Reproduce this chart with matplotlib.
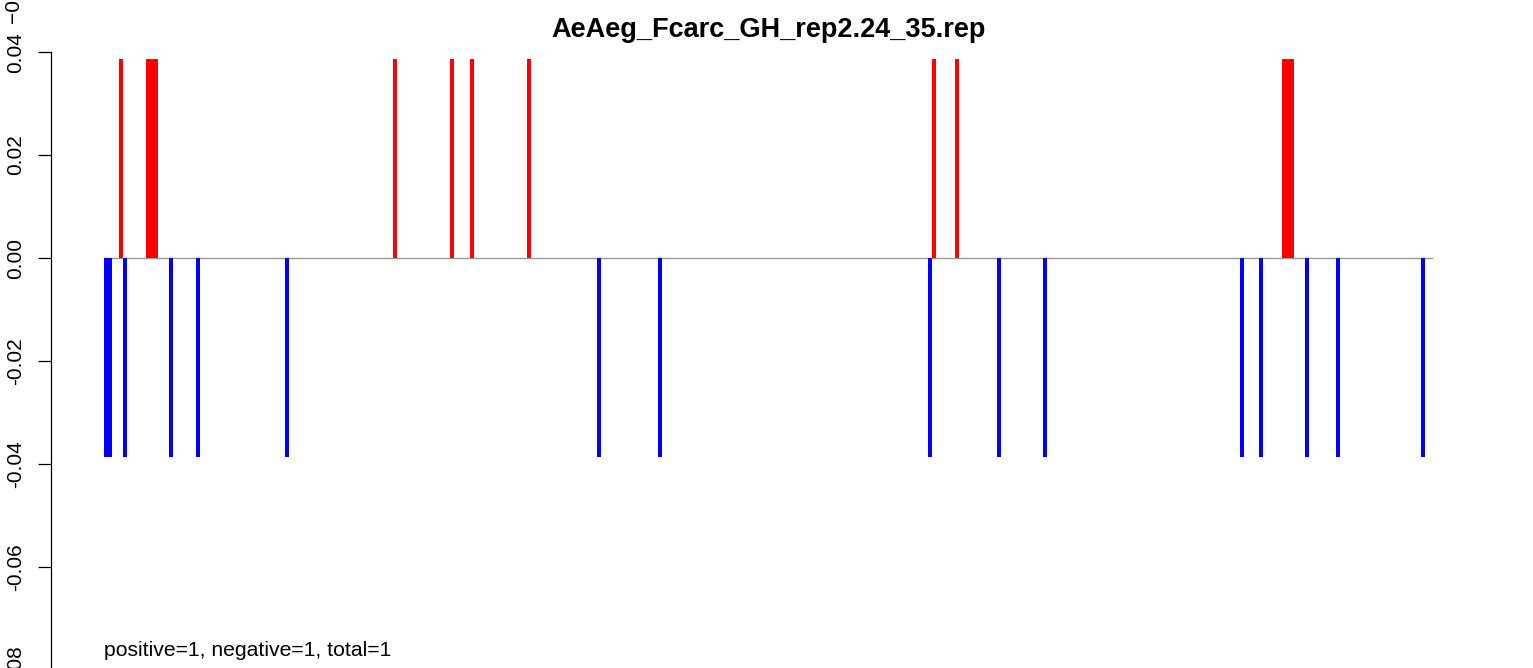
import matplotlib
matplotlib.use('Agg')
from matplotlib import pyplot as plt

plt.rcParams['font.family'] = ['Liberation Sans', 'DejaVu Sans']

# repeat name and sequence length (arbitrary position units)
title = "AeAeg_Fcarc_GH_rep2.24_35.rep"
seq_len = 1328

# positive hits (start position, width)
pos_start = [15, 42, 289, 346, 366, 423, 828, 851, 1178]
pos_width = [4, 12, 4, 4, 4, 4, 4, 4, 12]
pos_value = [0.0387] * len(pos_start)

# negative hits (start position, width)
neg_start = [0, 19, 65, 92, 181, 493, 554, 824, 893, 939, 1136, 1155, 1201, 1232, 1317]
neg_width = [8, 4, 4, 4, 4, 4, 4, 4, 4, 4, 4, 4, 4, 4, 4]
neg_value = [-0.0387] * len(neg_start)

yticks = [-0.08, -0.06, -0.04, -0.02, 0.00, 0.02, 0.04]
summary = "positive=1, negative=1, total=1"

W, H = 1533, 668
fig = plt.figure(figsize=(W / 100, H / 100), dpi=100)

# plot region: R style 4% padding around the bar range, cropped at the bottom
ymin, ymax = -0.09, 0.05
scale = 5145.0  # px per unit
zero_px = 258.0
top_px = zero_px - ymax * scale
bot_px = zero_px - ymin * scale
left_px = 104 - 0.04 * seq_len
width_px = seq_len * 1.08
ax = fig.add_axes([left_px / W, (H - bot_px) / H, width_px / W, (bot_px - top_px) / H])
ax.set_xlim(-0.04 * seq_len, 1.04 * seq_len)
ax.set_ylim(ymin, ymax)

ax.plot([0, seq_len], [0, 0], color='#999999', linewidth=1.0, zorder=1)
ax.bar(neg_start, neg_value, width=neg_width, align='edge', color='blue', linewidth=0, zorder=2)
ax.bar(pos_start, pos_value, width=pos_width, align='edge', color='red', linewidth=0, zorder=2)

ax.text(0, -0.0773, summary, fontsize=15.2, ha='left', va='baseline')

for s in ['top', 'right', 'bottom']:
    ax.spines[s].set_visible(False)
ax.spines['left'].set_bounds(-0.08, 0.04)
ax.spines['left'].set_linewidth(0.9)
ax.set_xticks([])
ax.set_yticks(yticks)
ax.set_yticklabels(["%.2f" % t if t != 0 else "0.00" for t in yticks])
ax.tick_params(axis='y', length=9.1, width=0.9, labelsize=15, pad=16)
for lab in ax.get_yticklabels():
    lab.set_rotation(90)
    lab.set_ha('center')
    lab.set_va('center')

# partly hidden label above the top tick
fig.text(13.5 / W, 1 - 23 / H, "\u22120.10", fontsize=15, rotation=90, ha='center', va='bottom')

fig.text(769 / W, 1 - 36.7 / H, title, fontsize=19.5, fontweight='bold', ha='center', va='baseline')

fig.savefig('out.png', dpi=100)
